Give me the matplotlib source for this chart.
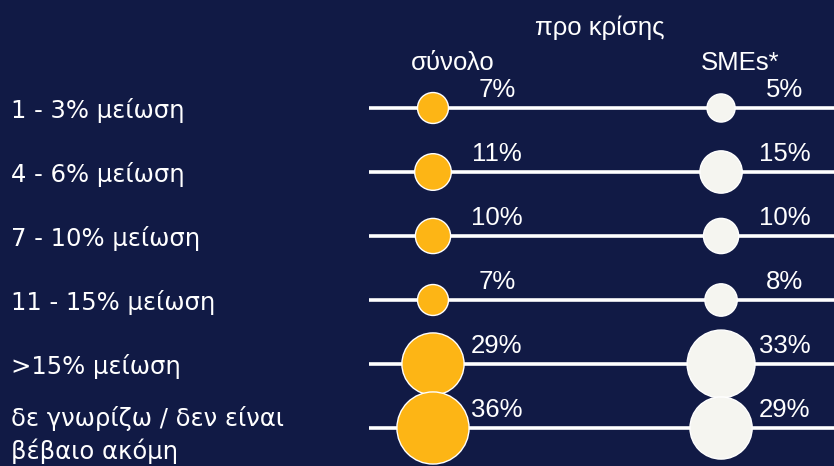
import matplotlib
matplotlib.use("Agg")
import matplotlib.pyplot as plt
import matplotlib.transforms as mtransforms

# ----------------------------
# Data
# ----------------------------
categories = [
    "1 - 3% μείωση",
    "4 - 6% μείωση",
    "7 - 10% μείωση",
    "11 - 15% μείωση",
    ">15% μείωση",
    "δε γνωρίζω / δεν είναι\nβέβαιο ακόμη",
]
series_names = ["σύνολο", "SMEs*"]
total_values = [7, 11, 10, 7, 29, 36]
sme_values = [5, 15, 10, 8, 33, 29]
header = "προ κρίσης"

# ----------------------------
# Style
# ----------------------------
BG = "#111a45"
ORANGE = "#fdb515"
WHITE = "#f5f5f0"
PCT_FONT = "Liberation Sans"
CAT_FONT = "DejaVu Sans"


def diameter_px(v):
    """Bubble diameter in pixels for a percentage value."""
    return 21 + 1.42 * v


def main():
    fig = plt.figure(figsize=(8.34, 4.66), dpi=100, facecolor=BG)
    ax = fig.add_axes([0, 0, 1, 1])
    ax.set_facecolor(BG)
    ax.set_xlim(-1.503, 1.392)
    ax.set_ylim(5.594, -1.6875)
    ax.axis("off")

    rows = list(range(len(categories)))

    # horizontal lines behind the bubbles
    ax.hlines(rows, -0.222, 1.392, color="white", lw=2.6, zorder=1)

    colors = [ORANGE, WHITE]
    for col, (vals, c) in enumerate(zip([total_values, sme_values], colors)):
        sizes = [(diameter_px(v) * 0.72) ** 2 for v in vals]
        ax.scatter([col] * len(vals), rows, s=sizes, color=c,
                   edgecolors="white", linewidths=1.0, zorder=3)
        for r, v in zip(rows, vals):
            ax.annotate(f"{v}%", (col, r), xytext=(46, 13),
                        textcoords="offset points", ha="center", va="center",
                        color="white", fontsize=18.5, family=PCT_FONT,
                        zorder=4)
        # column headers
        ax.annotate(series_names[col], (col, -1.6875), xytext=(14, -45),
                    textcoords="offset points", ha="center", va="center",
                    color="white", fontsize=18.5, family=PCT_FONT)

    ax.annotate(header, (0.5, -1.6875), xytext=(16, -20),
                textcoords="offset points", ha="center", va="center",
                color="white", fontsize=18.5, family=PCT_FONT)

    # category labels on the left (multi-line one sits a little lower)
    trans = mtransforms.blended_transform_factory(ax.transAxes, ax.transData)
    for r, lab in zip(rows, categories):
        dy = -5 if "\n" in lab else -2
        ax.annotate(lab, (0.013, r), xycoords=trans, xytext=(0, dy),
                    textcoords="offset points", ha="left", va="center",
                    color="white", fontsize=17.5, family=CAT_FONT,
                    linespacing=1.35)

    fig.savefig("out.png", dpi=100, facecolor=BG)


if __name__ == "__main__":
    main()
